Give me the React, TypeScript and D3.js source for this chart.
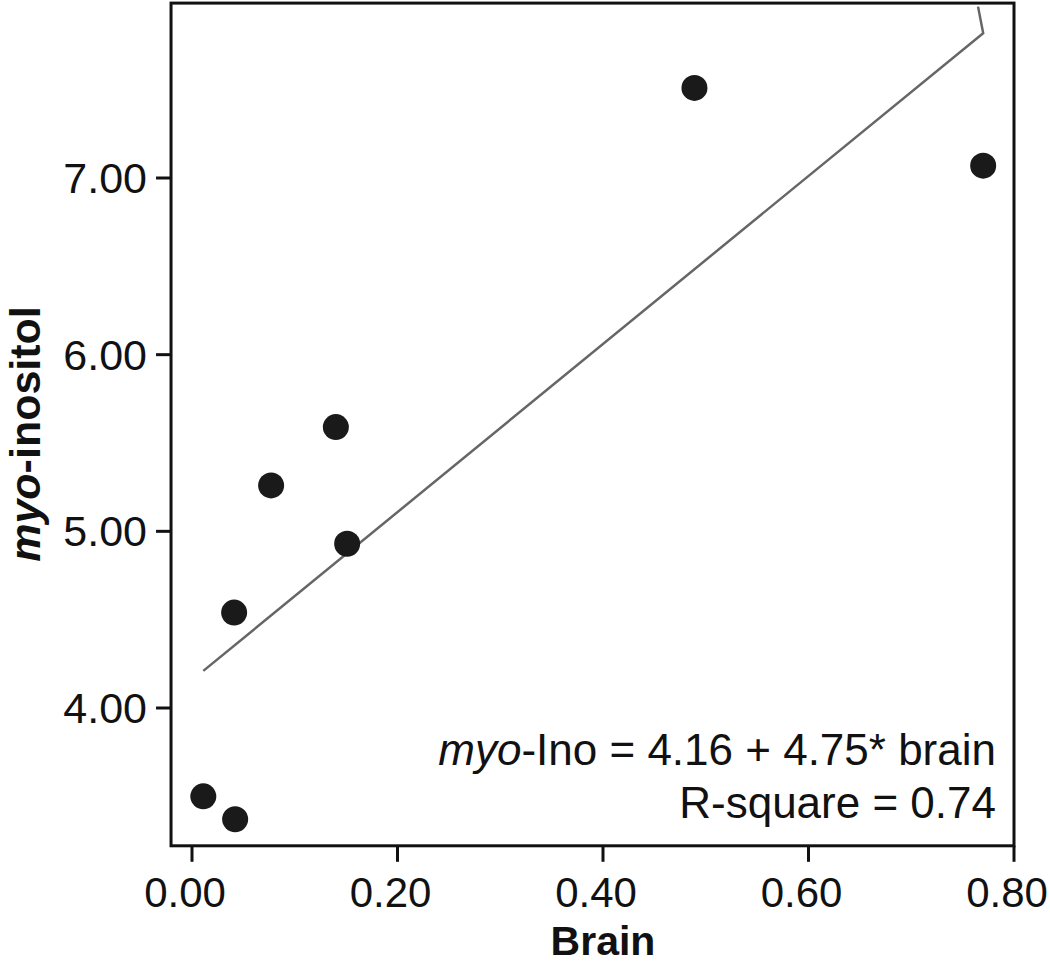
import React from 'react';
import * as d3 from 'd3';

// brain vs myo-inositol measurements
const brain = [0.011, 0.042, 0.041, 0.077, 0.151, 0.140, 0.489, 0.770];
const myoIno = [3.50, 3.37, 4.54, 5.26, 4.93, 5.59, 7.51, 7.07];

// regression line as drawn (incl. the small hook at the end)
const fitX = [0.011, 0.770, 0.765];
const fitY = [4.21, 7.82, 7.97];

const xTicks = [0, 0.2, 0.4, 0.6, 0.8];
const yTicks = [4, 5, 6, 7];

const W = 1050;
const H = 964;
const font = '"Liberation Sans", Arial, Helvetica, sans-serif';

const App = () => {
  const x = d3.scaleLinear().domain([0, 0.8]).range([192, 1014]);
  const y = d3.scaleLinear().domain([4, 7]).range([708, 178]);

  const left = x(-0.0204);
  const right = x(0.8);
  const top = y(7.99);
  const bottom = y(3.22);

  const line = d3.line<number>()
    .x((_, i) => x(fitX[i]))
    .y((_, i) => y(fitY[i]));

  return (
    <svg width={W} height={H} style={{ position: 'absolute', left: 0, top: 0, background: '#fff' }}
      fontFamily={font}>
      {/* fit line */}
      <path d={line(fitX) || ''} fill="none" stroke="#666" strokeWidth={2.5} />

      {/* points */}
      {brain.map((b, i) => (
        <circle key={i} cx={x(b)} cy={y(myoIno[i])} r={13} fill="#1a1a1a" />
      ))}

      {/* frame */}
      <rect x={left} y={top} width={right - left} height={bottom - top}
        fill="none" stroke="#111" strokeWidth={3} />

      {/* x axis */}
      {xTicks.map(t => (
        <g key={t}>
          <line x1={x(t)} x2={x(t)} y1={bottom} y2={bottom + 16} stroke="#111" strokeWidth={3} />
          <text x={x(t) - 7} y={907} textAnchor="middle" fontSize={42} fill="#111">{t.toFixed(2)}</text>
        </g>
      ))}
      <text x={(x(0) + x(0.8)) / 2} y={955} textAnchor="middle" fontSize={41}
        fontWeight="bold" fill="#111">Brain</text>

      {/* y axis */}
      {yTicks.map(t => (
        <g key={t}>
          <line x1={left - 15} x2={left} y1={y(t)} y2={y(t)} stroke="#111" strokeWidth={3} />
          <text x={147} y={y(t)} dy="0.35em" textAnchor="end" fontSize={43} fill="#111">{t.toFixed(2)}</text>
        </g>
      ))}
      <text transform={`translate(40,${434}) rotate(-90)`} textAnchor="middle" fontSize={43}
        fontWeight="bold" fill="#111">
        <tspan fontStyle="italic">myo</tspan>-inositol
      </text>

      {/* annotation */}
      <text x={996} y={765} textAnchor="end" fontSize={44} fill="#111">
        <tspan fontStyle="italic">myo</tspan>-Ino = 4.16 + 4.75* brain
      </text>
      <text x={996} y={818} textAnchor="end" fontSize={44} fill="#111">R-square = 0.74</text>
    </svg>
  );
};

export default App;
